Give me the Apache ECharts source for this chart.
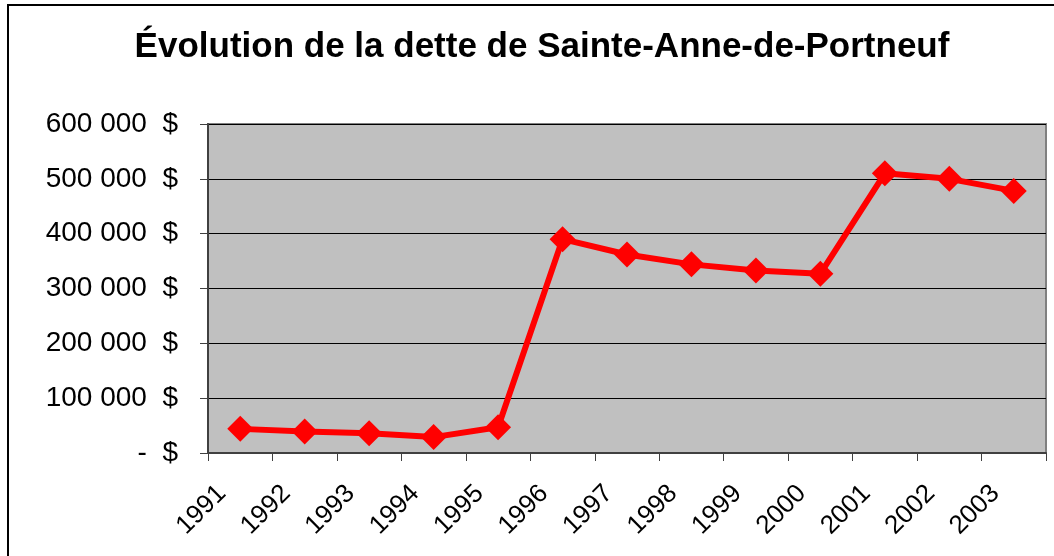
<!DOCTYPE html>
<html>
<head>
<meta charset="utf-8">
<script src="https://cdn.jsdelivr.net/npm/echarts@6/dist/echarts.min.js"></script>
<style>
  html, body { margin: 0; padding: 0; background: #fff; }
  #chart { width: 1054px; height: 556px; }
</style>
</head>
<body>
<div id="chart"></div>
<script>
const years = ["1991", "1992", "1993", "1994", "1995", "1996", "1997",
  "1998", "1999", "2000", "2001", "2002", "2003"];
const debt = [44000, 39000, 36000, 29000, 47000, 390000, 362000,
  344000, 333000, 327000, 510000, 500000, 478000];
const yTicks = [0, 100000, 200000, 300000, 400000, 500000, 600000];

const FONT = '"Liberation Sans", Arial, sans-serif';

function money(v) {
  if (v === 0) return "-  $";
  return String(v).replace(/\B(?=(\d{3})+(?!\d))/g, " ") + "  $";
}

const chart = echarts.init(document.getElementById("chart"), null, { renderer: "canvas" });

chart.setOption({
  animation: false,
  textStyle: { fontFamily: FONT },
  title: {
    text: "Évolution de la dette de Sainte-Anne-de-Portneuf",
    left: 537,
    top: 25,
    textAlign: "center",
    textStyle: { fontFamily: FONT, fontSize: 35, fontWeight: "bold", color: "#000" },
  },
  graphic: [
    {
      type: "polyline",
      silent: true,
      shape: { points: [[8, 600], [8, 5], [1100, 5]] },
      style: { stroke: "#000", lineWidth: 2, fill: null },
    },
  ],
  grid: {
    left: 208,
    right: 8,
    top: 124,
    bottom: 103,
    show: true,
    backgroundColor: "#C0C0C0",
    borderColor: "#808080",
    borderWidth: 2,
  },
  xAxis: {
    type: "category",
    data: years,
    boundaryGap: true,
    axisLine: { lineStyle: { color: "#404040", width: 2 } },
    axisTick: { show: true, length: 8, lineStyle: { color: "#404040", width: 1 } },
    axisLabel: {
      rotate: 45,
      fontSize: 26,
      color: "#000",
      margin: 18,
      padding: [0, 26, 0, 0],
      interval: 0,
    },
    splitLine: { show: false },
  },
  yAxis: {
    type: "value",
    min: yTicks[0],
    max: yTicks[yTicks.length - 1],
    interval: yTicks[1] - yTicks[0],
    axisLine: { show: true, lineStyle: { color: "#404040", width: 2 } },
    axisTick: { show: true, length: 8, lineStyle: { color: "#404040", width: 1 } },
    axisLabel: {
      fontSize: 28,
      color: "#000",
      margin: 30,
      formatter: money,
    },
    splitLine: { show: true, lineStyle: { color: "#000", width: 1 } },
  },
  series: [
    {
      type: "line",
      data: debt,
      symbol: "diamond",
      symbolSize: [26, 26],
      lineStyle: { color: "#FF0000", width: 6 },
      itemStyle: { color: "#FF0000" },
    },
  ],
});
</script>
</body>
</html>
